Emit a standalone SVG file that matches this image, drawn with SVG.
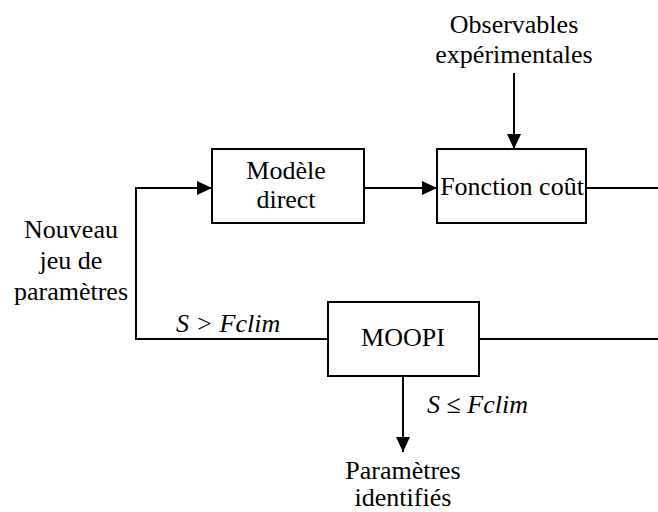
<svg xmlns="http://www.w3.org/2000/svg" width="658" height="512" viewBox="0 0 658 512">
<style>
text{font-family:'Liberation Serif',Tinos,'Times New Roman',Times,serif;font-size:26px;fill:#000;text-anchor:middle}
.it{font-style:italic;text-anchor:start}
.box{fill:#fff;stroke:#000;stroke-width:2}
.ln{fill:none;stroke:#000;stroke-width:2}
</style>
<defs>
<marker id="ah" markerWidth="15" markerHeight="14" refX="15" refY="7" orient="auto" markerUnits="userSpaceOnUse">
<path d="M0,0 L15,7 L0,14 Z" fill="#000"/>
</marker>
</defs>
<g id="connectors">
<path class="ln" d="M136,340 L136,188 L212,188" marker-end="url(#ah)"/>
<path class="ln" d="M364,188 L437,188" marker-end="url(#ah)"/>
<path class="ln" d="M514,73 L514,149" marker-end="url(#ah)"/>
<path class="ln" d="M586,188 L658,188"/>
<path class="ln" d="M136,339 L328,339"/>
<path class="ln" d="M479,339 L658,339"/>
<path class="ln" d="M403,376 L403,452" marker-end="url(#ah)"/>
<text class="it" x="176" y="332" font-family="Liberation Serif">S &gt; Fclim</text>
<text class="it" x="427" y="413" font-family="Liberation Serif">S ≤ Fclim</text>
</g>
<g id="modele">
<rect class="box" x="212" y="149" width="152" height="74"/>
<text x="286" y="179">Modèle</text>
<text x="286" y="208">direct</text>
</g>
<g id="fonction">
<rect class="box" x="437" y="149" width="149" height="74"/>
<text x="512" y="195">Fonction coût</text>
</g>
<g id="moopi">
<rect class="box" x="328" y="302" width="151" height="74"/>
<text x="403" y="346">MOOPI</text>
</g>
<g id="observables">
<text x="514" y="33">Observables</text>
<text x="514" y="63">expérimentales</text>
</g>
<g id="nouveau">
<text x="71" y="238">Nouveau</text>
<text x="71" y="269">jeu de</text>
<text x="71" y="300">paramètres</text>
</g>
<g id="parametres">
<text x="403" y="479">Paramètres</text>
<text x="403" y="506">identifiés</text>
</g>
</svg>
